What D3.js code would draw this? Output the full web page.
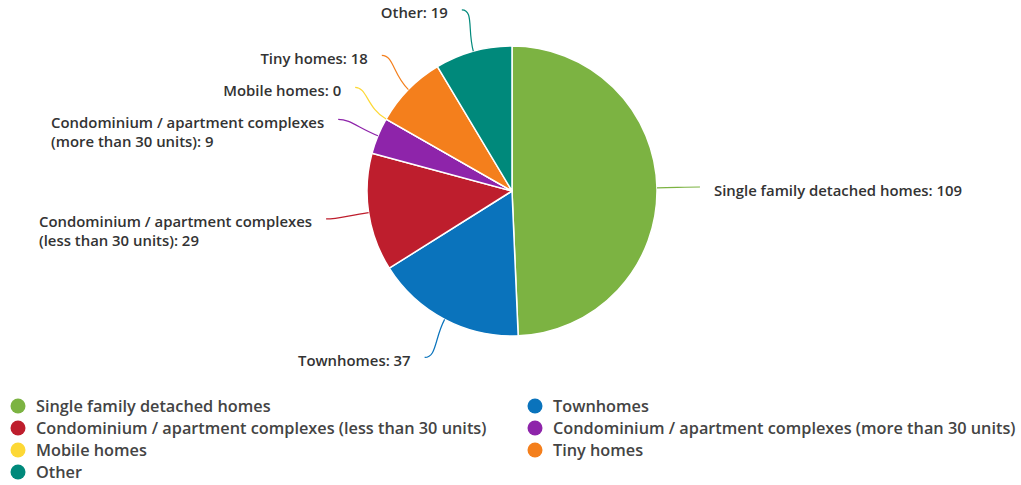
<!DOCTYPE html>
<html><head><meta charset="utf-8">
<script src="https://cdn.jsdelivr.net/npm/d3@7"></script>
<style>
html,body{margin:0;padding:0;background:#fff;}
svg{display:block;font-family:"Open Sans",sans-serif;}
</style></head>
<body><svg id="c" width="1021" height="485"></svg>
<script>
const categories = [
  "Single family detached homes",
  "Townhomes",
  "Condominium / apartment complexes (less than 30 units)",
  "Condominium / apartment complexes (more than 30 units)",
  "Mobile homes",
  "Tiny homes",
  "Other"
];
const labelLines = [
  ["Single family detached homes"],
  ["Townhomes"],
  ["Condominium / apartment complexes", "(less than 30 units)"],
  ["Condominium / apartment complexes", "(more than 30 units)"],
  ["Mobile homes"],
  ["Tiny homes"],
  ["Other"]
];
const values = [109, 37, 29, 9, 0, 18, 19];
const colors = ["#7CB342", "#0A73BC", "#BE1E2D", "#8E24AA", "#FDD835", "#F47F1C", "#00897B"];

const svg = d3.select("#c");
const cx = 512, cy = 191, r = 145, labelR = 188, gap = 14;

const data = categories.map((c, i) => ({name: c, value: values[i], color: colors[i], lines: labelLines[i], i}));
const pie = d3.pie().value(d => d.value).sort(null);
const arcs = pie(data);
const arcGen = d3.arc().innerRadius(0).outerRadius(r);

const g = svg.append("g").attr("transform", `translate(${cx},${cy})`);
g.selectAll("path.slice").data(arcs).join("path")
  .attr("class", "slice")
  .attr("d", arcGen)
  .attr("fill", d => d.data.color)
  .attr("stroke", "#fff").attr("stroke-width", 1.5).attr("stroke-linejoin", "round");

// label layout
const labels = arcs.map(a => {
  const mid = (a.startAngle + a.endAngle) / 2;
  const ex = r * Math.sin(mid), ey = -r * Math.cos(mid);
  const lx = labelR * Math.sin(mid), ly = -labelR * Math.cos(mid);
  return {a, mid, ex, ey, lx, ly, side: Math.sin(mid) >= 0 ? 1 : -1};
});
[1, -1].forEach(side => {
  const L = labels.filter(l => l.side === side).sort((p, q) => p.ly - q.ly);
  for (let k = L.length - 2; k >= 0; k--) {
    const minGap = 14 + 18 * L[k].a.data.lines.length;
    if (L[k].ly > L[k + 1].ly - minGap) L[k].ly = L[k + 1].ly - minGap;
  }
  L.forEach(l => {
    const dy = Math.max(-labelR, Math.min(labelR, l.ly));
    l.lx = side * Math.sqrt(labelR * labelR - dy * dy);
  });
});

labels.forEach(l => {
  const d = l.a.data;
  const c1x = (r + 22) * Math.sin(l.mid), c1y = -(r + 22) * Math.cos(l.mid);
  const c2x = l.lx - l.side * 12, c2y = l.ly;
  g.append("path")
    .attr("d", `M${l.ex},${l.ey} C${c1x},${c1y} ${c2x},${c2y} ${l.lx},${l.ly}`)
    .attr("fill", "none").attr("stroke", d.color).attr("stroke-width", 1.2);
  const t = g.append("text")
    .attr("font-size", 14.9).attr("font-weight", 600).attr("fill", "#333");
  const lines = d.lines.slice();
  lines[lines.length - 1] += ": " + d.value;
  lines.forEach((s, k) => {
    t.append("tspan").attr("y", l.ly + 8.5 + k * 19).text(s);
  });
  const w = d3.max(t.selectAll("tspan").nodes(), n => n.getComputedTextLength());
  const x0 = l.side > 0 ? l.lx + gap : l.lx - gap - w;
  t.selectAll("tspan").attr("x", x0);
});

// legend
const legend = svg.append("g");
const colX = [18, 535], rowY0 = 406, rowH = 22;
data.forEach((d, i) => {
  const col = i % 2, row = Math.floor(i / 2);
  const gg = legend.append("g").attr("transform", `translate(${colX[col]},${rowY0 + row * rowH})`);
  gg.append("circle").attr("cx", 0).attr("cy", 0).attr("r", 7.5).attr("fill", d.color);
  gg.append("text").attr("x", 18).attr("y", 6)
    .attr("font-size", 16.3).attr("font-weight", 600).attr("fill", "#444").text(d.name);
});
</script></body></html>
